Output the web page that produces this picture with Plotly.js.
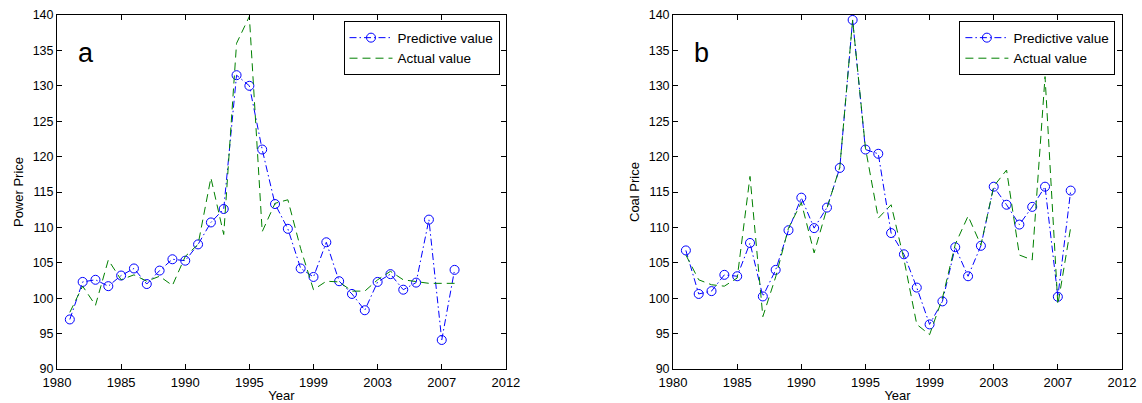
<!DOCTYPE html>
<html>
<head>
<meta charset="utf-8">
<script src="https://cdn.plot.ly/plotly-3.0.1.min.js"></script>
<style>html,body{margin:0;padding:0;background:#fff;}#chart{width:1142px;height:403px;}</style>
</head>
<body>
<div id="chart"></div>
<script>
// sample positions (one per year step) and axis tick labels
var sampleIndex = [1,2,3,4,5,6,7,8,9,10,11,12,13,14,15,16,17,18,19,20,21,22,23,24,25,26,27,28,29,30,31];
var tickPositions = [0,5,10,15,20,25,30,35];
var tickLabels = ['1980','1985','1990','1995','1999','2003','2007','2012'];
var yTicks = [90,95,100,105,110,115,120,125,130,135,140];

// panel a: power price
var powerPredicted = [97.0,102.3,102.6,101.7,103.2,104.2,102.0,103.9,105.5,105.3,107.6,110.7,112.6,131.5,130.0,121.0,113.3,109.8,104.2,103.0,107.9,102.4,100.6,98.3,102.3,103.4,101.2,102.2,111.1,94.1,104.0];
var powerActual = [98.0,101.7,99.0,105.4,102.6,103.3,102.4,103.1,101.8,105.9,107.6,117.0,109.0,136.0,139.8,109.4,113.4,113.9,107.0,101.2,102.4,102.3,101.0,101.0,102.6,103.8,102.6,102.4,102.1,102.1,102.1];

// panel b: coal price
var coalPredicted = [106.75,100.6,101.0,103.3,103.1,107.8,100.25,104.0,109.6,114.2,109.9,112.8,118.4,139.3,121.0,120.4,109.2,106.2,101.5,96.3,99.55,107.2,103.1,107.4,115.75,113.2,110.4,112.9,115.75,100.2,115.2];
var coalActual = [106.1,102.6,101.9,101.7,102.85,117.2,97.4,103.0,109.9,113.5,106.4,112.7,118.5,139.3,121.2,111.3,113.2,105.5,96.3,94.85,100.0,107.6,111.6,107.5,115.8,118.1,106.1,105.4,131.3,99.1,110.0];

var FONT = 'Liberation Sans, Arial, Helvetica, sans-serif';
var BLUE = '#0000ff', GREEN = '#008000';

function predTrace(y, xa, ya, lg) {
  return {x: sampleIndex, y: y, xaxis: xa, yaxis: ya, legend: lg, type: 'scatter', mode: 'lines+markers',
    name: 'Predictive value',
    line: {color: BLUE, width: 1, dash: '7px,3px,1.5px,3px'},
    marker: {symbol: 'circle-open', size: 9, color: BLUE, line: {width: 1, color: BLUE}}};
}
function actTrace(y, xa, ya, lg) {
  return {x: sampleIndex, y: y, xaxis: xa, yaxis: ya, legend: lg, type: 'scatter', mode: 'lines',
    name: 'Actual value',
    line: {color: GREEN, width: 1, dash: '8px,5px'}};
}

var data = [
  predTrace(powerPredicted, 'x', 'y', 'legend'),
  actTrace(powerActual, 'x', 'y', 'legend'),
  predTrace(coalPredicted, 'x2', 'y2', 'legend2'),
  actTrace(coalActual, 'x2', 'y2', 'legend2')
];

function xAxis(domain, anchor) {
  return {domain: domain, anchor: anchor, range: [0, 35], tickmode: 'array', tickvals: tickPositions, ticktext: tickLabels,
    showline: true, linecolor: '#000', linewidth: 1, mirror: 'ticks', ticks: 'inside', ticklen: 5, tickcolor: '#000',
    showgrid: false, zeroline: false, tickfont: {family: FONT, size: 13, color: '#000'}, ticklabelstandoff: 1,
    title: {text: 'Year', font: {family: FONT, size: 13, color: '#000'}, standoff: 4}};
}
function yAxis(anchor, title) {
  return {domain: [0, 1], anchor: anchor, range: [90, 140], tickmode: 'array', tickvals: yTicks,
    showline: true, linecolor: '#000', linewidth: 1, mirror: 'ticks', ticks: 'inside', ticklen: 5, tickcolor: '#000',
    showgrid: false, zeroline: false, tickfont: {family: FONT, size: 12.5, color: '#000'},
    title: {text: title, font: {family: FONT, size: 13, color: '#000'}, standoff: 6}};
}

function legendBox(xr) {
  return {x: xr, y: 0.982, xref: 'paper', yref: 'paper', xanchor: 'right', yanchor: 'top',
    bgcolor: '#fff', bordercolor: '#000', borderwidth: 1, font: {family: FONT, size: 13.5, color: '#000'},
    tracegroupgap: 0, itemwidth: 43};
}

var layout = {
  width: 1142, height: 403,
  margin: {l: 56.5, r: 19.7, t: 15.3, b: 33.7},
  paper_bgcolor: '#fff', plot_bgcolor: '#fff',
  showlegend: true,
  xaxis: xAxis([0, 0.42147], 'y'),
  yaxis: yAxis('x', 'Power Price'),
  xaxis2: xAxis([0.57845, 1], 'y2'),
  yaxis2: yAxis('x2', 'Coal Price'),
  legend: legendBox(0.4155),
  legend2: legendBox(0.9938),
  annotations: [
    {text: 'a', xref: 'paper', yref: 'paper', x: 0.0183, y: 0.894, xanchor: 'left', yanchor: 'middle',
     showarrow: false, font: {family: FONT, size: 27, color: '#000'}},
    {text: 'b', xref: 'paper', yref: 'paper', x: 0.5967, y: 0.894, xanchor: 'left', yanchor: 'middle',
     showarrow: false, font: {family: FONT, size: 27, color: '#000'}}
  ]
};

Plotly.newPlot('chart', data, layout, {displayModeBar: false, staticPlot: true});
</script>
</body>
</html>
